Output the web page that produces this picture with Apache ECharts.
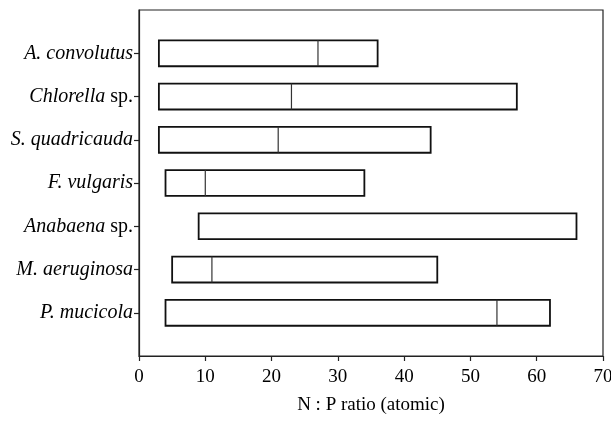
<!DOCTYPE html>
<html>
<head>
<meta charset="utf-8">
<script src="https://cdn.jsdelivr.net/npm/echarts@6/dist/echarts.min.js"></script>
<style>
  html, body { margin: 0; padding: 0; background: #fff; }
  #chart { width: 611px; height: 426px; }
</style>
</head>
<body>
<div id="chart"></div>
<script>
// 物种名称（rich 文本：斜体属名 + 正体 sp.）
const species = [
    '{i|A. convolutus}',
    '{i|Chlorella} sp.',
    '{i|S. quadricauda}',
    '{i|F. vulgaris}',
    '{i|Anabaena} sp.',
    '{i|M. aeruginosa}',
    '{i|P. mucicola}'
];
// N:P 比值范围（最小、中间分隔线、最大）
const minVals = [3, 3, 3, 4, 9, 5, 4];
const midVals = [27, 23, 21, 10, null, 11, 54];
const maxVals = [36, 57, 44, 34, 66, 45, 62];
// x 轴刻度
const xTicks = [0, 10, 20, 30, 40, 50, 60, 70];

document.addEventListener('DOMContentLoaded', () => {
    const chart = echarts.init(document.getElementById('chart'));

    // 行位置从 1 开始，上下各留一格空白
    const rows = species.map((s, i) => i + 1);
    const data = species.map((s, i) => [rows[i], minVals[i], midVals[i], maxVals[i]]);

    const font = '"Liberation Serif", "DejaVu Serif", serif';

    const option = {
        animation: false,
        backgroundColor: '#fff',
        textStyle: { fontFamily: font },
        grid: {
            left: 139, right: 8, top: 10, bottom: 70,
            outerBoundsMode: 'none',
            show: true,
            borderColor: '#222',
            borderWidth: 1.2
        },
        xAxis: {
            type: 'value',
            position: 'bottom',
            min: xTicks[0],
            max: xTicks[xTicks.length - 1],
            interval: 10,
            name: 'N : P ratio (atomic)',
            nameLocation: 'middle',
            nameGap: 40,
            nameMoveOverlap: false,
            nameTextStyle: { color: '#000', fontSize: 19, fontFamily: font },
            axisLine: { onZero: false, lineStyle: { color: '#222', width: 1.2 } },
            axisTick: { show: true, inside: false, length: 5, lineStyle: { color: '#222', width: 1.2 } },
            axisLabel: { color: '#000', fontSize: 19, margin: 12, fontFamily: font },
            splitLine: { show: false }
        },
        yAxis: {
            type: 'value',
            min: 0,
            max: species.length + 1,
            inverse: true,
            axisLine: { show: true, onZero: false, lineStyle: { color: '#222', width: 1.2 } },
            axisTick: {
                show: true, length: 5, customValues: rows,
                lineStyle: { color: '#222', width: 1.2 }
            },
            axisLabel: {
                customValues: rows,
                margin: 6,
                color: '#000',
                fontSize: 20,
                fontFamily: font,
                formatter: v => species[v - 1] || '',
                rich: {
                    i: { fontStyle: 'italic', fontSize: 20, color: '#000', fontFamily: font }
                }
            },
            splitLine: { show: false }
        },
        series: [{
            type: 'custom',
            data: data,
            encode: { x: [1, 2, 3], y: 0 },
            renderItem: (params, api) => {
                const y = api.value(0);
                const lo = api.coord([api.value(1), y]);
                const hi = api.coord([api.value(3), y]);
                const h = api.size([0, 0.6])[1];
                const children = [{
                    type: 'rect',
                    shape: { x: lo[0], y: lo[1] - h / 2, width: hi[0] - lo[0], height: h },
                    style: { fill: '#fff', stroke: '#111', lineWidth: 1.8 }
                }];
                const mid = api.value(2);
                if (mid != null && !isNaN(mid)) {
                    const m = api.coord([mid, y]);
                    children.push({
                        type: 'line',
                        shape: { x1: m[0], y1: lo[1] - h / 2, x2: m[0], y2: lo[1] + h / 2 },
                        style: { stroke: '#333', lineWidth: 1.2 }
                    });
                }
                return { type: 'group', children: children };
            }
        }]
    };

    chart.setOption(option);
});
</script>
</body>
</html>
